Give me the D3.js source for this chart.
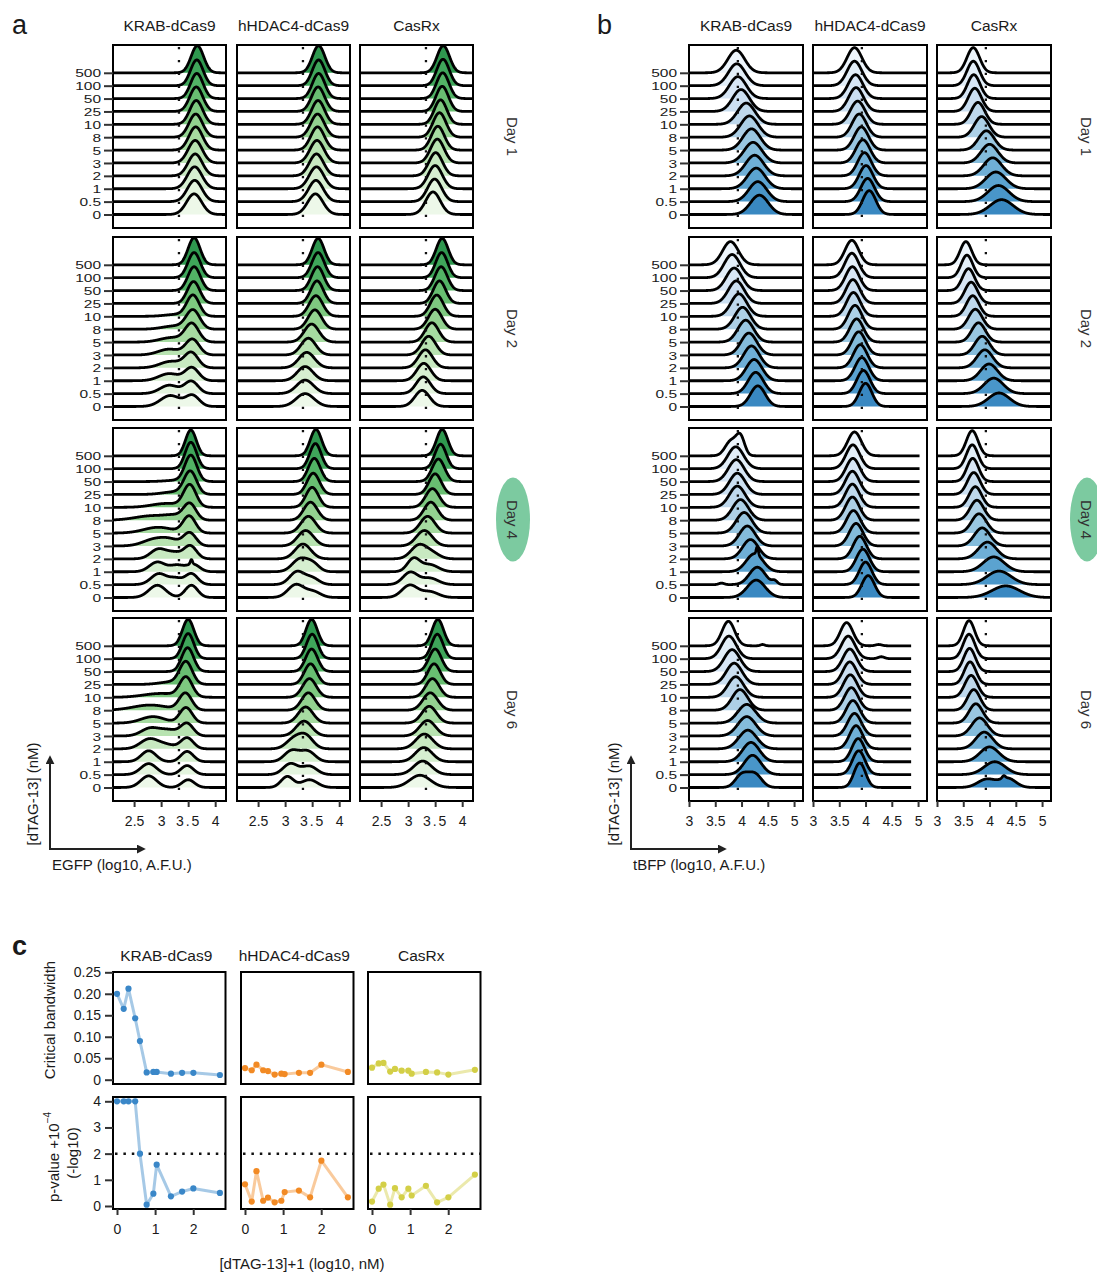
<!DOCTYPE html>
<html>
<head>
<meta charset="utf-8">
<script src="https://cdn.jsdelivr.net/npm/d3@7"></script>
<style>
body{margin:0;background:#fff;}
svg text{font-family:"Liberation Sans",Arial,Helvetica,sans-serif;fill:#1a1a1a;}
</style>
</head>
<body>
<svg id="fig" width="1097" height="1275"></svg>
<script>
// ---------- data ----------
var concLabels = ["0","0.5","1","2","3","5","8","10","25","50","100","500"];
var constructs = ["KRAB-dCas9","hHDAC4-dCas9","CasRx"];
var days = ["Day 1","Day 2","Day 4","Day 6"];
var egfpTicks = [2.5,3,3.5,4];
var tbfpTicks = [3,3.5,4,4.5,5];
var egfpThreshold = 3.33;
var tbfpThreshold = 3.93;

// each ridge = list of [centre, width, peak height (in ridge steps)]
var egfpD1Krab = [[[3.61,0.14,1.6]],[[3.62,0.135,1.65]],[[3.62,0.135,1.7]],[[3.63,0.13,1.7]],[[3.63,0.13,1.75]],[[3.64,0.125,1.8]],
  [[3.64,0.125,1.8]],[[3.65,0.12,1.85]],[[3.65,0.12,1.9]],[[3.66,0.115,1.95]],[[3.66,0.115,2.0]],[[3.67,0.115,2.1]]];
var egfpD1Hdac = [[[3.56,0.14,1.6]],[[3.57,0.135,1.65]],[[3.58,0.135,1.7]],[[3.58,0.13,1.7]],[[3.59,0.13,1.75]],[[3.6,0.125,1.8]],
  [[3.6,0.125,1.8]],[[3.61,0.12,1.85]],[[3.61,0.12,1.9]],[[3.62,0.115,1.95]],[[3.62,0.115,2.0]],[[3.62,0.115,2.1]]];
var egfpD1Casrx = [[[3.46,0.135,1.75]],[[3.49,0.13,1.75]],[[3.5,0.13,1.8]],[[3.51,0.125,1.8]],[[3.54,0.125,1.85]],[[3.55,0.12,1.85]],
  [[3.58,0.12,1.9]],[[3.6,0.115,1.9]],[[3.63,0.115,1.95]],[[3.64,0.115,2.0]],[[3.645,0.115,2.05]],[[3.65,0.115,2.1]]];

var egfpD2Krab = [[[3.17,0.18,0.85],[3.58,0.125,0.85]],[[3.15,0.17,0.65],[3.56,0.125,0.95]],[[3.15,0.19,0.55],[3.57,0.125,1.0]],
  [[3.18,0.2,0.5],[3.56,0.125,1.15]],[[3.15,0.2,0.45],[3.58,0.125,1.2]],[[3.2,0.22,0.35],[3.57,0.125,1.4]],
  [[3.25,0.22,0.25],[3.59,0.125,1.45]],[[3.3,0.22,0.15],[3.59,0.115,1.6]],[[3.6,0.115,1.7]],[[3.61,0.115,1.85]],[[3.61,0.115,1.95]],[[3.61,0.11,2.1]]];
var egfpD2Hdac = [[[3.37,0.165,1.0]],[[3.37,0.155,1.05]],[[3.37,0.145,1.1]],[[3.4,0.145,1.2]],[[3.43,0.135,1.3]],[[3.49,0.135,1.4]],
  [[3.55,0.125,1.5]],[[3.57,0.125,1.6]],[[3.59,0.115,1.75]],[[3.6,0.115,1.85]],[[3.61,0.115,1.95]],[[3.61,0.11,2.05]]];
var egfpD2Casrx = [[[3.26,0.135,1.25]],[[3.28,0.13,1.3]],[[3.29,0.13,1.35]],[[3.32,0.13,1.4]],[[3.38,0.13,1.45]],[[3.44,0.125,1.5]],
  [[3.5,0.125,1.55]],[[3.53,0.12,1.65]],[[3.58,0.115,1.75]],[[3.61,0.115,1.85]],[[3.62,0.11,1.95]],[[3.63,0.11,2.05]]];

var egfpD4Krab = [[[2.93,0.155,0.95],[3.56,0.115,0.95]],[[2.96,0.145,0.85],[3.27,0.115,0.45],[3.56,0.115,0.85]],
  [[2.93,0.145,0.75],[3.3,0.135,0.5],[3.56,0.02,0.35],[3.6,0.115,0.55]],[[2.95,0.145,0.75],[3.25,0.135,0.45],[3.54,0.115,1.0]],
  [[2.9,0.22,0.55],[3.2,0.165,0.35],[3.53,0.115,1.0]],[[2.95,0.27,0.45],[3.52,0.115,1.3]],[[2.85,0.32,0.35],[3.25,0.165,0.25],[3.53,0.115,1.25]],
  [[3.1,0.27,0.3],[3.53,0.115,1.7]],[[3.25,0.22,0.2],[3.54,0.115,1.75]],[[3.3,0.22,0.1],[3.55,0.11,2.0]],[[3.55,0.105,2.05]],[[3.55,0.1,2.0]]];
var egfpD4Hdac = [[[3.2,0.145,1.0],[3.52,0.135,0.45]],[[3.22,0.135,1.0],[3.5,0.125,0.5]],[[3.28,0.145,1.0],[3.52,0.115,0.55]],
  [[3.33,0.145,1.15]],[[3.38,0.145,1.2]],[[3.43,0.135,1.3]],[[3.47,0.125,1.4]],[[3.5,0.115,1.55]],[[3.52,0.115,1.65]],
  [[3.54,0.11,1.8]],[[3.56,0.105,1.95]],[[3.57,0.105,2.05]]];
var egfpD4Casrx = [[[3.03,0.145,0.95],[3.4,0.155,0.45]],[[3.04,0.135,0.95],[3.4,0.155,0.5]],[[3.1,0.115,1.0],[3.4,0.155,0.55]],
  [[3.2,0.145,1.05],[3.45,0.135,0.4]],[[3.3,0.145,1.2]],[[3.36,0.135,1.3]],[[3.42,0.125,1.4]],[[3.45,0.125,1.45]],
  [[3.5,0.115,1.6]],[[3.56,0.115,1.75]],[[3.6,0.105,1.9]],[[3.63,0.105,2.05]]];

var egfpD6Krab = [[[2.77,0.145,0.9],[3.5,0.115,0.6]],[[2.77,0.145,0.85],[3.48,0.115,0.7]],[[2.77,0.135,0.85],[3.48,0.115,0.8]],
  [[2.78,0.165,0.75],[3.1,0.165,0.3],[3.48,0.115,0.85]],[[2.8,0.165,0.6],[3.15,0.165,0.45],[3.48,0.115,0.95]],
  [[2.85,0.22,0.5],[3.46,0.115,1.2]],[[2.8,0.32,0.4],[3.45,0.115,1.3]],[[3.0,0.32,0.3],[3.46,0.115,1.5]],[[3.2,0.22,0.2],[3.46,0.115,1.7]],
  [[3.49,0.11,1.85]],[[3.5,0.105,1.95]],[[3.5,0.105,2.05]]];
var egfpD6Hdac = [[[3.04,0.115,0.85],[3.45,0.145,0.6]],[[3.1,0.135,0.85],[3.45,0.135,0.65]],[[3.12,0.135,0.85],[3.42,0.135,0.8]],
  [[3.15,0.135,0.7],[3.38,0.135,1.0]],[[3.35,0.145,1.15]],[[3.38,0.135,1.25]],[[3.43,0.125,1.35]],[[3.45,0.125,1.45]],
  [[3.47,0.115,1.6]],[[3.49,0.11,1.75]],[[3.5,0.105,1.9]],[[3.49,0.105,2.05]]];
var egfpD6Casrx = [[[3.22,0.19,0.95]],[[3.27,0.165,1.05]],[[3.29,0.155,1.1]],[[3.3,0.155,1.15]],[[3.36,0.145,1.2]],[[3.39,0.135,1.3]],
  [[3.41,0.135,1.35]],[[3.45,0.125,1.45]],[[3.48,0.115,1.6]],[[3.5,0.115,1.75]],[[3.54,0.105,1.9]],[[3.55,0.105,2.05]]];

var tbfpD1Krab = [[[4.34,0.17,1.5]],[[4.31,0.17,1.55]],[[4.28,0.17,1.6]],[[4.25,0.17,1.6]],[[4.22,0.17,1.6]],[[4.19,0.165,1.65]],
  [[4.15,0.165,1.65]],[[4.09,0.165,1.65]],[[3.99,0.16,1.7]],[[3.93,0.16,1.7]],[[3.91,0.16,1.7]],[[3.9,0.16,1.75]]];
var tbfpD1Hdac = [[[4.07,0.125,1.85]],[[4.04,0.13,1.8]],[[4.01,0.13,1.8]],[[3.98,0.13,1.8]],[[3.95,0.135,1.8]],[[3.92,0.135,1.8]],
  [[3.88,0.135,1.8]],[[3.85,0.14,1.8]],[[3.82,0.14,1.85]],[[3.81,0.14,1.85]],[[3.79,0.14,1.9]],[[3.79,0.14,1.95]]];
var tbfpD1Casrx = [[[4.23,0.22,1.15]],[[4.17,0.2,1.25]],[[4.12,0.19,1.3]],[[4.06,0.17,1.4]],[[4.0,0.16,1.45]],[[3.94,0.15,1.5]],
  [[3.85,0.14,1.6]],[[3.78,0.13,1.7]],[[3.72,0.125,1.8]],[[3.7,0.12,1.85]],[[3.69,0.12,1.9]],[[3.69,0.12,1.95]]];

var tbfpD2Krab = [[[4.31,0.14,1.6]],[[4.27,0.145,1.65]],[[4.24,0.15,1.65]],[[4.19,0.15,1.7]],[[4.14,0.15,1.7]],[[4.08,0.15,1.7]],
  [[4.02,0.15,1.7]],[[3.95,0.15,1.75]],[[3.9,0.15,1.75]],[[3.86,0.15,1.75]],[[3.82,0.15,1.8]],[[3.79,0.15,1.8]]];
var tbfpD2Hdac = [[[4.0,0.12,1.8]],[[3.96,0.125,1.8]],[[3.93,0.13,1.8]],[[3.9,0.13,1.8]],[[3.87,0.13,1.8]],[[3.83,0.13,1.8]],
  [[3.8,0.13,1.85]],[[3.77,0.13,1.85]],[[3.76,0.13,1.85]],[[3.75,0.13,1.85]],[[3.74,0.13,1.9]],[[3.74,0.13,1.9]]];
var tbfpD2Casrx = [[[4.18,0.2,1.05]],[[4.08,0.18,1.2]],[[3.99,0.16,1.3]],[[3.91,0.15,1.4]],[[3.86,0.14,1.45]],[[3.79,0.13,1.5]],
  [[3.73,0.13,1.55]],[[3.68,0.12,1.6]],[[3.65,0.12,1.65]],[[3.6,0.115,1.7]],[[3.57,0.11,1.75]],[[3.55,0.11,1.8]]];

var tbfpD4Krab = [[[4.28,0.17,1.35]],[[3.62,0.05,0.12],[4.3,0.15,1.35],[4.63,0.05,0.25]],[[4.25,0.16,1.4],[4.3,0.02,0.6]],
  [[4.17,0.15,1.5]],[[4.11,0.15,1.55]],[[4.05,0.15,1.6]],[[3.98,0.15,1.6]],[[3.92,0.15,1.65]],[[3.92,0.15,1.65]],
  [[3.9,0.15,1.7]],[[3.89,0.15,1.7]],[[3.8,0.11,1.15],[3.98,0.08,1.4]]];
var tbfpD4Hdac = [[[4.05,0.12,1.7]],[[4.0,0.12,1.75]],[[3.95,0.125,1.75]],[[3.89,0.125,1.75]],[[3.82,0.13,1.75]],[[3.77,0.13,1.75]],
  [[3.75,0.13,1.8]],[[3.75,0.13,1.8]],[[3.75,0.13,1.8]],[[3.76,0.13,1.8]],[[3.76,0.13,1.85]],[[3.79,0.13,1.85]]];
var tbfpD4Casrx = [[[4.31,0.26,0.9]],[[4.18,0.23,1.05]],[[4.08,0.2,1.15]],[[3.96,0.17,1.3]],[[3.86,0.15,1.4]],[[3.8,0.14,1.5]],
  [[3.76,0.13,1.55]],[[3.73,0.12,1.6]],[[3.7,0.12,1.7]],[[3.68,0.11,1.8]],[[3.67,0.11,1.85]],[[3.67,0.11,1.95]]];

var tbfpD6Krab = [[[4.0,0.12,0.95],[4.25,0.13,1.05]],[[4.21,0.16,1.5]],[[4.18,0.16,1.5]],[[4.12,0.17,1.45]],[[4.1,0.17,1.5]],
  [[4.1,0.17,1.45]],[[3.97,0.15,1.6]],[[3.89,0.15,1.6]],[[3.86,0.15,1.65]],[[3.82,0.15,1.7]],[[3.76,0.14,1.75]],
  [[3.75,0.12,1.9],[4.4,0.04,0.1]]];
var tbfpD6Hdac = [[[3.89,0.11,1.9]],[[3.87,0.12,1.85]],[[3.86,0.12,1.8]],[[3.82,0.125,1.8]],[[3.79,0.13,1.75]],[[3.76,0.13,1.75]],
  [[3.73,0.13,1.75]],[[3.71,0.13,1.75]],[[3.7,0.13,1.75]],[[3.7,0.13,1.75]],[[3.67,0.13,1.75],[4.3,0.06,0.15]],[[3.64,0.12,1.8],[4.25,0.06,0.1]]];
var tbfpD6Casrx = [[[3.95,0.17,0.65],[4.35,0.15,0.7],[4.27,0.03,0.2]],[[4.1,0.2,1.0]],[[4.0,0.18,1.15]],[[3.9,0.16,1.3]],
  [[3.81,0.15,1.4]],[[3.74,0.13,1.5]],[[3.7,0.12,1.6]],[[3.65,0.12,1.7]],[[3.63,0.11,1.75]],[[3.62,0.11,1.8]],
  [[3.61,0.11,1.9]],[[3.61,0.105,1.95]]];

// where the measured range of each tBFP panel stops (day x construct)
var tbfpCurveEnd = [[5.17,5.17,5.17],[5.17,5.17,5.17],[5.17,5.03,5.17],[5.17,4.87,5.17]];

// panel c
var logConc = [0,0.176,0.301,0.477,0.602,0.778,0.954,1.041,1.415,1.708,2.004,2.7];
var bwKrab  = [0.200,0.165,0.212,0.143,0.090,0.017,0.018,0.018,0.014,0.016,0.016,0.011];
var bwHdac  = [0.027,0.022,0.035,0.022,0.020,0.012,0.014,0.013,0.016,0.016,0.035,0.018];
var bwCasrx = [0.028,0.038,0.039,0.019,0.025,0.021,0.021,0.014,0.018,0.017,0.012,0.023];
var pKrab   = [4,4,4,4,2.0,0.05,0.47,1.58,0.37,0.55,0.67,0.5];
var pHdac   = [0.83,0.17,1.33,0.2,0.32,0.14,0.2,0.53,0.59,0.33,1.73,0.33];
var pCasrx  = [0.17,0.66,0.82,0.05,0.68,0.33,0.66,0.4,0.77,0.14,0.33,1.2];
var bwTicks = [0,0.05,0.10,0.15,0.20,0.25];
var pTicks = [0,1,2,3,4];
var pCutoff = 2;
var cColors = ["#3a87c8","#f28a24","#d3cf47"];

// ---------- layout ----------
var svg = d3.select("#fig");
var font = 14;
var rowTop = [45, 237, 428, 618], panelH = 183;

var groups = [
  {id:"egfp", lefts:[113,237,360], w:113, domain:[2.11,4.2], ticks:egfpTicks, thr:egfpThreshold,
   data:[[egfpD1Krab,egfpD1Hdac,egfpD1Casrx],[egfpD2Krab,egfpD2Hdac,egfpD2Casrx],
         [egfpD4Krab,egfpD4Hdac,egfpD4Casrx],[egfpD6Krab,egfpD6Hdac,egfpD6Casrx]],
   fill:function(i){ return d3.interpolateGreens(0.07 + 0.63*i/11); },
   dayX:512, letter:"a", letterX:12, arrowX:50, xTitle:"EGFP (log10, A.F.U.)", yTitleX:32},
  {id:"tbfp", lefts:[689,813,937], w:114, domain:[3,5.17], ticks:tbfpTicks, thr:tbfpThreshold,
   data:[[tbfpD1Krab,tbfpD1Hdac,tbfpD1Casrx],[tbfpD2Krab,tbfpD2Hdac,tbfpD2Casrx],
         [tbfpD4Krab,tbfpD4Hdac,tbfpD4Casrx],[tbfpD6Krab,tbfpD6Hdac,tbfpD6Casrx]],
   fill:function(i){ return d3.interpolateBlues(0.66 - 0.61*i/11); },
   end:tbfpCurveEnd,
   dayX:1086, letter:"b", letterX:597, arrowX:631, xTitle:"tBFP (log10, A.F.U.)", yTitleX:613}
];

var defs = svg.append("defs");
defs.append("marker").attr("id","arrow").attr("viewBox","0 0 10 10")
  .attr("refX",8).attr("refY",5).attr("markerWidth",4.5).attr("markerHeight",4.5)
  .attr("orient","auto")
  .append("path").attr("d","M0,0L10,5L0,10z").attr("fill","#222");

function ridgeHeight(comps, v){
  var s = 0;
  comps.forEach(function(c){ s += c[2]*Math.exp(-0.5*Math.pow((v-c[0])/c[1],2)); });
  return s;
}

function styleAxis(g){
  g.select(".domain").remove();
  g.selectAll(".tick line").attr("stroke","#333").attr("stroke-width",2);
  g.selectAll(".tick text").attr("font-size",font).attr("fill","#1a1a1a")
    .attr("font-family","'Liberation Sans',Arial,sans-serif");
}

groups.forEach(function(gr){
  var G = svg.append("g").attr("class","grp_"+gr.id);

  // column strips
  constructs.forEach(function(c,ci){
    G.append("text").attr("x",gr.lefts[ci]+gr.w/2).attr("y",25)
      .attr("text-anchor","middle").attr("dominant-baseline","central")
      .attr("font-size",15.5).text(c);
  });

  days.forEach(function(day,di){
    var top = rowTop[di];
    var yBase = d3.scalePoint().domain(concLabels).range([top+169.5, top+27.8]);
    var step = yBase.step();

    gr.lefts.forEach(function(left,ci){
      var x = d3.scaleLinear().domain(gr.domain).range([left,left+gr.w]);
      var panel = G.append("g");
      var clipId = "clip_"+gr.id+"_"+di+"_"+ci;
      defs.append("clipPath").attr("id",clipId).append("rect")
        .attr("x",left).attr("y",top).attr("width",gr.w).attr("height",panelH);
      var inner = panel.append("g").attr("clip-path","url(#"+clipId+")");

      var ridges = gr.data[di][ci];
      var xEnd = gr.end ? gr.end[di][ci] : gr.domain[1];
      var xs = d3.range(gr.domain[0], xEnd+0.0001, 0.004);

      // top ridge first so lower ridges sit in front
      for (var i = ridges.length-1; i >= 0; i--){
        var comps = ridges[i];
        var base = yBase(concLabels[i]);
        var area = d3.area()
          .x(function(v){ return x(v); })
          .y0(base)
          .y1(function(v){ return base - step*ridgeHeight(comps,v); });
        var line = d3.line()
          .x(function(v){ return x(v); })
          .y(function(v){ return base - step*ridgeHeight(comps,v); });
        inner.append("path").datum(xs).attr("d",area)
          .attr("fill",gr.fill(i)).attr("stroke","none");
        inner.append("path").datum(xs).attr("d",line)
          .attr("fill","none").attr("stroke","#000").attr("stroke-width",2.8)
          .attr("stroke-linejoin","round");
      }

      // threshold
      inner.append("line").attr("x1",x(gr.thr)).attr("x2",x(gr.thr))
        .attr("y1",top+2).attr("y2",top+panelH)
        .attr("stroke","#111").attr("stroke-width",2.3)
        .attr("stroke-dasharray","2.3,10.6");

      panel.append("rect").attr("x",left).attr("y",top).attr("width",gr.w).attr("height",panelH)
        .attr("fill","none").attr("stroke","#000").attr("stroke-width",2);

      if (ci === 0){
        panel.append("g").attr("transform","translate("+left+",0)")
          .call(d3.axisLeft(yBase).tickSize(9).tickPadding(3))
          .call(styleAxis)
          .selectAll(".tick text").attr("font-size",15.5).attr("dy","0.36em")
          .attr("transform","scale(1,0.74)");
      }
      if (di === days.length-1){
        var ax = panel.append("g").attr("transform","translate(0,"+(top+panelH)+")")
          .call(d3.axisBottom(x).tickValues(gr.ticks).tickSize(6).tickPadding(9)
            .tickFormat(function(d){ return String(d); }))
          .call(styleAxis);
        if (gr.id === "egfp"){
          ax.selectAll(".tick text").attr("letter-spacing",function(d){ return d===3.5 ? "2px" : null; });
        }
      }
    });

    // day strip
    if (day === "Day 4"){
      G.append("ellipse").attr("cx",gr.dayX+1).attr("cy",top+panelH/2)
        .attr("rx",17).attr("ry",42).attr("fill","#7ccaa0");
    }
    G.append("text")
      .attr("transform","translate("+gr.dayX+","+(top+panelH/2)+") rotate(90)")
      .attr("text-anchor","middle").attr("dominant-baseline","central")
      .attr("font-size",15).style("fill","#333").text(day);
  });

  // panel letter
  G.append("text").attr("x",gr.letterX).attr("y",25).attr("dominant-baseline","central")
    .attr("font-size",27).text(gr.letter);

  // direction arrows
  var ax0 = gr.arrowX, ay0 = 849;
  G.append("line").attr("x1",ax0).attr("y1",ay0).attr("x2",ax0).attr("y2",757)
    .attr("stroke","#222").attr("stroke-width",2).attr("marker-end","url(#arrow)");
  G.append("line").attr("x1",ax0-1).attr("y1",ay0).attr("x2",ax0+94).attr("y2",ay0)
    .attr("stroke","#222").attr("stroke-width",2).attr("marker-end","url(#arrow)");
  G.append("text").attr("x",ax0+2).attr("y",864).attr("dominant-baseline","central")
    .attr("font-size",15).text(gr.xTitle);
  G.append("text").attr("transform","translate("+gr.yTitleX+",794) rotate(-90)")
    .attr("text-anchor","middle").attr("dominant-baseline","central")
    .attr("font-size",15).text("[dTAG-13] (nM)");
});

// ---------- panel c ----------
var C = svg.append("g").attr("class","panel_c");
var cLefts = [113,241,368], cW = 112.5;
var cRows = [
  {top:972, h:112, domain:[-0.01,0.2507], ticks:bwTicks, series:[bwKrab,bwHdac,bwCasrx],
   fmt:function(d){ return d===0 ? "0" : d3.format(".2f")(d); }},
  {top:1097, h:112, domain:[-0.115,4.164], ticks:pTicks, series:[pKrab,pHdac,pCasrx],
   fmt:function(d){ return String(d); }, cutoff:pCutoff}
];

C.append("text").attr("x",12).attr("y",946).attr("dominant-baseline","central")
  .attr("font-size",27).attr("font-weight","bold").text("c");

constructs.forEach(function(c,ci){
  C.append("text").attr("x",cLefts[ci]+cW/2-3).attr("y",955)
    .attr("text-anchor","middle").attr("dominant-baseline","central")
    .attr("font-size",15.5).text(c);
});

cRows.forEach(function(row,ri){
  var y = d3.scaleLinear().domain(row.domain).range([row.top+row.h,row.top]);
  cLefts.forEach(function(left,ci){
    var x = d3.scaleLinear().domain([-0.105,2.847]).range([left,left+cW]);
    var pts = logConc.map(function(v,k){ return [v,row.series[ci][k]]; });
    var g = C.append("g");

    if (row.cutoff !== undefined){
      g.append("line").attr("x1",left+2).attr("x2",left+cW).attr("y1",y(row.cutoff)).attr("y2",y(row.cutoff))
        .attr("stroke","#111").attr("stroke-width",2.5).attr("stroke-dasharray","2.5,5.9");
    }
    g.append("path").datum(pts)
      .attr("d",d3.line().x(function(d){ return x(d[0]); }).y(function(d){ return y(d[1]); }))
      .attr("fill","none").attr("stroke",cColors[ci]).attr("stroke-opacity",0.45)
      .attr("stroke-width",3).attr("stroke-linejoin","round");
    g.selectAll("circle").data(pts).enter().append("circle")
      .attr("cx",function(d){ return x(d[0]); }).attr("cy",function(d){ return y(d[1]); })
      .attr("r",3.1).attr("fill",cColors[ci]);

    g.append("rect").attr("x",left).attr("y",row.top).attr("width",cW).attr("height",row.h)
      .attr("fill","none").attr("stroke","#000").attr("stroke-width",2);

    if (ci === 0){
      g.append("g").attr("transform","translate("+left+",0)")
        .call(d3.axisLeft(y).tickValues(row.ticks).tickSize(8).tickPadding(4).tickFormat(row.fmt))
        .call(styleAxis);
    }
    if (ri === cRows.length-1){
      g.append("g").attr("transform","translate(0,"+(row.top+row.h)+")")
        .call(d3.axisBottom(x).tickValues([0,1,2]).tickSize(6).tickPadding(9).tickFormat(d3.format("d")))
        .call(styleAxis);
    }
  });
});

C.append("text").attr("transform","translate(49,1020) rotate(-90)")
  .attr("text-anchor","middle").attr("dominant-baseline","central")
  .attr("font-size",15).text("Critical bandwidth");
var pt = C.append("text").attr("transform","translate(53,1157) rotate(-90)")
  .attr("text-anchor","middle").attr("dominant-baseline","central").attr("font-size",15);
pt.append("tspan").text("p-value +10");
pt.append("tspan").attr("dy",-6).attr("font-size",10).text("−4");
C.append("text").attr("transform","translate(72,1153) rotate(-90)")
  .attr("text-anchor","middle").attr("dominant-baseline","central")
  .attr("font-size",15).text("(-log10)");
C.append("text").attr("x",302).attr("y",1263)
  .attr("text-anchor","middle").attr("dominant-baseline","central")
  .attr("font-size",15).text("[dTAG-13]+1 (log10, nM)");
</script>
</body>
</html>
